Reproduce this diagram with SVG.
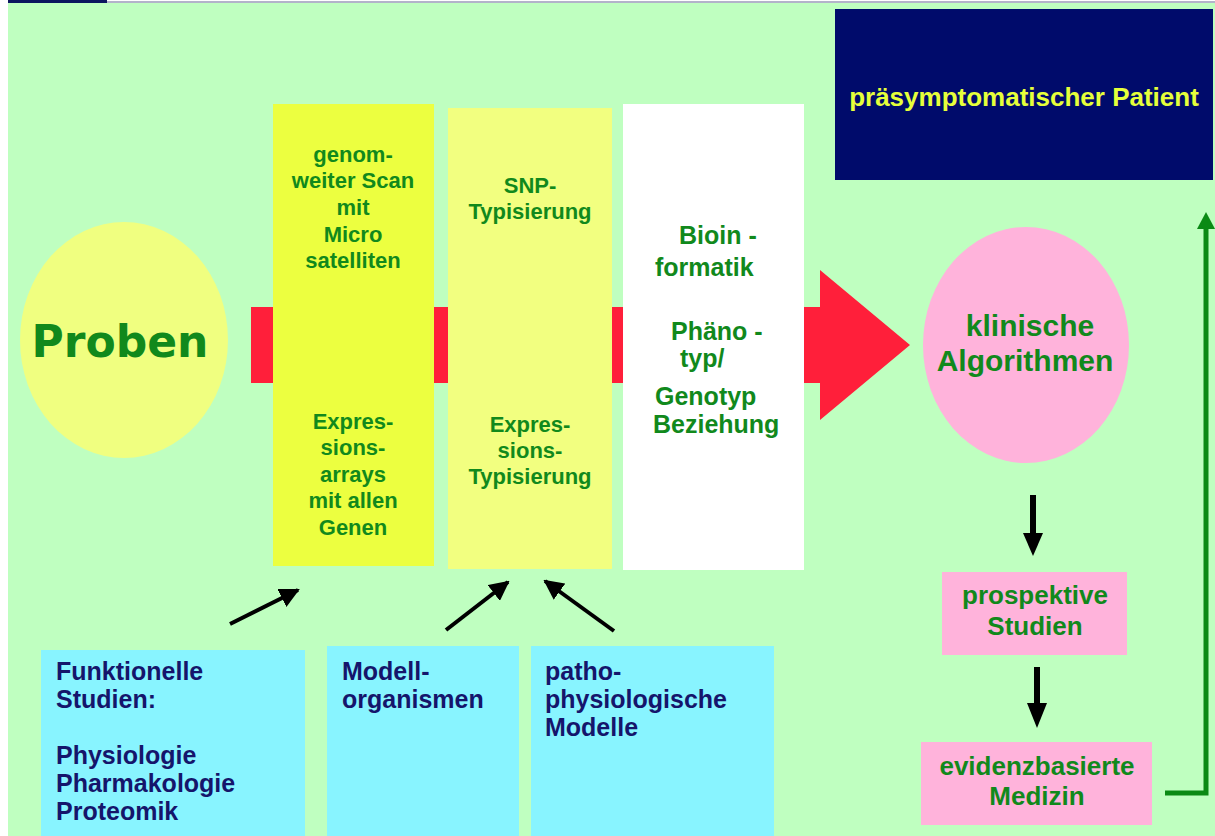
<svg xmlns="http://www.w3.org/2000/svg" width="1215" height="836" viewBox="0 0 1215 836">
<defs>
<style>
.t{font-family:"Liberation Sans",Arial,sans-serif;font-weight:bold}
.g{fill:#11891c}
.nv{fill:#15156b}
.c{text-anchor:middle}
</style>
<marker id="ab" viewBox="0 0 10 10" refX="9" refY="5" markerWidth="5" markerHeight="5" orient="auto" markerUnits="strokeWidth">
<path d="M0,0 L10,5 L0,10 z" fill="#000"/>
</marker>
</defs>
<rect x="0" y="0" width="1215" height="836" fill="#fff"/>
<rect x="8" y="3" width="1207" height="833" fill="#bfffc0"/>
<rect x="8" y="0" width="99" height="3" fill="#0c1660"/>
<line x1="107" y1="2" x2="1215" y2="2" stroke="#9a9ab8" stroke-width="1.5"/>

<g id="connectors">
<polygon points="251,307 820,307 820,270 910,345 820,420 820,383 251,383" fill="#ff1f3a"/>
<line x1="230" y1="624" x2="298" y2="590" stroke="#000" stroke-width="4" marker-end="url(#ab)"/>
<line x1="446" y1="630" x2="508" y2="582" stroke="#000" stroke-width="4" marker-end="url(#ab)"/>
<line x1="614" y1="631" x2="545" y2="581" stroke="#000" stroke-width="4" marker-end="url(#ab)"/>
<line x1="1033" y1="495" x2="1033" y2="535" stroke="#000" stroke-width="6"/>
<polygon points="1023,533 1043,533 1033,556" fill="#000"/>
<line x1="1037" y1="667" x2="1037" y2="705" stroke="#000" stroke-width="6"/>
<polygon points="1027,703 1047,703 1037,728" fill="#000"/>
<polyline points="1165,793 1206,793 1206,226" fill="none" stroke="#0a8a14" stroke-width="5"/>
<polygon points="1197,229 1215,229 1206,212" fill="#0a8a14"/>
</g>

<g id="proben">
<ellipse cx="124" cy="340" rx="104" ry="118" fill="#f0ff80"/>
<text x="120" y="357" class="g c" style="font-family:'DejaVu Sans',Verdana,sans-serif;font-weight:bold;font-size:44px">Proben</text>
</g>

<g id="genomscan" class="t g c" font-size="22">
<rect x="273" y="104" width="161" height="462" fill="#ecff40"/>
<text x="353" y="162">genom-</text>
<text x="353" y="188">weiter Scan</text>
<text x="353" y="215">mit</text>
<text x="353" y="242">Micro</text>
<text x="353" y="268">satelliten</text>
<text x="353" y="429">Expres-</text>
<text x="353" y="455">sions-</text>
<text x="353" y="482">arrays</text>
<text x="353" y="508">mit allen</text>
<text x="353" y="535">Genen</text>
</g>

<g id="snp" class="t g c" font-size="22">
<rect x="448" y="108" width="164" height="461" fill="#f2ff80"/>
<text x="530" y="193">SNP-</text>
<text x="530" y="219">Typisierung</text>
<text x="530" y="432">Expres-</text>
<text x="530" y="458">sions-</text>
<text x="530" y="484">Typisierung</text>
</g>

<g id="bioinformatik" class="t g" font-size="25">
<rect x="623" y="104" width="181" height="466" fill="#fff"/>
<text x="679" y="244">Bioin -</text>
<text x="655" y="276">formatik</text>
<text x="671" y="340">Phäno -</text>
<text x="680" y="367">typ/</text>
<text x="655" y="405">Genotyp</text>
<text x="653" y="433">Beziehung</text>
</g>

<g id="klinisch" class="t g c" font-size="30">
<ellipse cx="1026" cy="345" rx="103" ry="118" fill="#ffb3db"/>
<text x="1030" y="336">klinische</text>
<text x="1025" y="371">Algorithmen</text>
</g>

<g id="patient">
<rect x="835" y="9" width="378" height="171" fill="#000b6b"/>
<text x="1024" y="106" class="t c" font-size="26" fill="#e6ff3a">präsymptomatischer Patient</text>
</g>

<g id="prospektiv" class="t g c" font-size="26">
<rect x="942" y="572" width="185" height="83" fill="#ffb3db"/>
<text x="1035" y="604">prospektive</text>
<text x="1035" y="635">Studien</text>
</g>

<g id="evidenz" class="t g c" font-size="26">
<rect x="921" y="742" width="231" height="83" fill="#ffb3db"/>
<text x="1037" y="775">evidenzbasierte</text>
<text x="1037" y="805">Medizin</text>
</g>

<g id="funktionell" class="t nv" font-size="25">
<rect x="41" y="650" width="264" height="186" fill="#88f4ff"/>
<text x="56" y="680">Funktionelle</text>
<text x="56" y="708">Studien:</text>
<text x="56" y="764">Physiologie</text>
<text x="56" y="792">Pharmakologie</text>
<text x="56" y="820">Proteomik</text>
</g>

<g id="modellorg" class="t nv" font-size="25">
<rect x="327" y="646" width="192" height="190" fill="#88f4ff"/>
<text x="342" y="680">Modell-</text>
<text x="342" y="708">organismen</text>
</g>

<g id="pathophys" class="t nv" font-size="25">
<rect x="531" y="646" width="243" height="190" fill="#88f4ff"/>
<text x="545" y="680">patho-</text>
<text x="545" y="708">physiologische</text>
<text x="545" y="736">Modelle</text>
</g>
</svg>
